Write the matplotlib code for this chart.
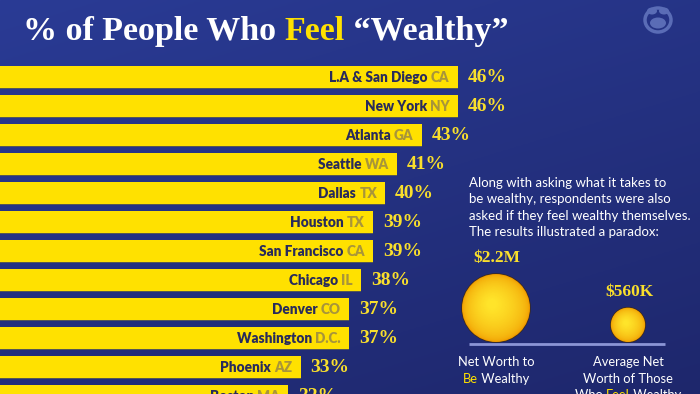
import numpy as np
import matplotlib
matplotlib.use("Agg")
import matplotlib.pyplot as plt
from matplotlib.patches import Circle, Ellipse

# ---------------- data ----------------
cities = ["L.A & San Diego", "New York", "Atlanta", "Seattle", "Dallas", "Houston",
          "San Francisco", "Chicago", "Denver", "Washington", "Phoenix", "Boston"]
states = ["CA", "NY", "GA", "WA", "TX", "TX", "CA", "IL", "CO", "D.C.", "AZ", "MA"]
pct_feel_wealthy = [46, 46, 43, 41, 40, 39, 39, 38, 37, 37, 33, 32]

bubble_labels = ["$2.2M", "$560K"]
bubble_values_musd = [2.2, 0.56]
bubble_captions = [["Net Worth to", ["Be", " Wealthy"]],
                   ["Average Net", "Worth of Those", ["Who ", "Feel", " Wealthy"]]]

title_parts = ["% of People Who ", "Feel", " \u201cWealthy\u201d"]
description = ["Along with asking what it takes to",
               "be wealthy, respondents were also",
               "asked if they feel wealthy themselves.",
               "The results illustrated a paradox:"]

# ---------------- style ----------------
W, H, DPI = 700, 394, 100
YELLOW = "#FFE100"
PCT_YELLOW = "#F9DF2C"
NAVY_TXT = "#282b5c"
STATE_TXT = "#a8953a"
WHITE = "#FFFFFF"
SANS = ["Lato", "DejaVu Sans"]
SERIF = ["Liberation Serif", "DejaVu Serif"]

fig = plt.figure(figsize=(W / DPI, H / DPI), dpi=DPI)

# background gradient
bg = fig.add_axes([0, 0, 1, 1], zorder=0)
yy, xx = np.mgrid[0:1:200j, 0:1:350j]
t = np.clip(0.65 * yy + 0.35 * xx, 0, 1)
top = np.array([0x2a, 0x3b, 0x95]) / 255
bot = np.array([0x1e, 0x27, 0x6c]) / 255
img = top[None, None, :] * (1 - t[..., None]) + bot[None, None, :] * t[..., None]
bg.imshow(img, extent=[0, 1, 0, 1], origin="upper", aspect="auto")
bg.set_axis_off()

# ---------------- bar chart ----------------
ax = fig.add_axes([0, 0, 1, 1], zorder=1)
ax.patch.set_alpha(0)
ax.set_axis_off()
ax.set_xlim(8.18, 65.98)
ax.set_ylim(10.93, -2.655)

idx = np.arange(len(cities))
bh = 22 / 29
# subtle shadow under each bar
ax.barh(idx + 0.05, pct_feel_wealthy, height=bh, left=0, color="#5d5d4e", alpha=0.9, zorder=1)
ax.barh(idx, pct_feel_wealthy, height=bh, left=0, color=YELLOW, zorder=2)

for i, (c, s, v) in enumerate(zip(cities, states, pct_feel_wealthy)):
    st = ax.annotate(s, xy=(v, i), xytext=(-6, 0), textcoords="offset points",
                     ha="right", va="center", fontsize=9.8, fontweight="heavy",
                     family=SANS, color=STATE_TXT, zorder=3, annotation_clip=False)
    ax.annotate(c + " ", xy=(0, 0), xycoords=st, ha="right", va="bottom",
                fontsize=9.8, fontweight="heavy", family=SANS, color=NAVY_TXT, zorder=3,
                annotation_clip=False)
    ax.annotate(f"{v}%", xy=(v, i), xytext=(7, 0), textcoords="offset points",
                ha="left", va="center", fontsize=14, fontweight="bold",
                family=SERIF, color=PCT_YELLOW, zorder=3, annotation_clip=False)

# ---------------- overlay (pixel coordinates) ----------------
ov = fig.add_axes([0, 0, 1, 1], zorder=2)
ov.patch.set_alpha(0)
ov.set_axis_off()
ov.set_xlim(0, W)
ov.set_ylim(H, 0)

# title
colors = [WHITE, YELLOW, WHITE]
prev = ov.text(23, 40, title_parts[0], ha="left", va="baseline", fontsize=24.5,
               fontweight="bold", family=SERIF, color=colors[0])
for part, col in zip(title_parts[1:], colors[1:]):
    prev = ov.annotate(part, xy=(1, 0), xycoords=prev, ha="left", va="bottom",
                       fontsize=24.5, fontweight="bold", family=SERIF, color=col)

# logo
LOGO = "#5a6cb6"
ov.add_patch(Ellipse((658, 20), 26, 24, facecolor="none", edgecolor=LOGO, lw=2.5))
ov.add_patch(Ellipse((658, 23), 16, 11, facecolor=LOGO, edgecolor="none"))
ov.add_patch(Ellipse((652, 11), 10, 7, facecolor=LOGO, edgecolor="none"))
ov.add_patch(Ellipse((664, 11), 10, 7, facecolor=LOGO, edgecolor="none"))

# description
for k, line in enumerate(description):
    ov.text(469, 183 + 16.4 * k, line, ha="left", va="center", fontsize=9.5,
            family=SANS, color=WHITE)

# bubbles
base_y = 344
col_x = [496, 628]
k_px = 34 / np.sqrt(2.2)
ov.plot([469, 665], [base_y, base_y], color="#8b95d6", lw=2, solid_capstyle="butt", zorder=2)
rim = np.array([0xF0, 0x9c, 0x00]) / 255
core = np.array([0xFF, 0xE4, 0x2a]) / 255
for x, v, lab in zip(col_x, bubble_values_musd, bubble_labels):
    r = k_px * np.sqrt(v)
    cy = base_y - r - 2
    ov.add_patch(Circle((x, cy), r + 0.8, facecolor="#3a2a20", edgecolor="none", zorder=3))
    n = 30
    for j in range(n):
        f = j / (n - 1)
        rr = r * (1 - 0.85 * f)
        colr = rim * (1 - f ** 0.5) + core * (f ** 0.5)
        ov.add_patch(Circle((x - 0.12 * r * f, cy - 0.12 * r * f), rr,
                            facecolor=colr, edgecolor="none", zorder=3))
    ov.text(x + 1, cy - r - 12, lab, ha="center", va="baseline", fontsize=12.5,
            fontweight="bold", family=SERIF, color=PCT_YELLOW)

# captions
r_ = fig.canvas.get_renderer()
for x, lines in zip(col_x, bubble_captions):
    for k, line in enumerate(lines):
        y = 362 + 16.6 * k
        if isinstance(line, str):
            ov.text(x, y, line, ha="center", va="center", fontsize=9.3, family=SANS,
                    color=WHITE, clip_on=False)
        else:
            parts = line
            widths = []
            for p in parts:
                tt = ov.text(0, 0, p, fontsize=9.3, family=SANS)
                widths.append(tt.get_window_extent(r_).width)
                tt.remove()
            x0 = x - sum(widths) / 2
            for p, wd in zip(parts, widths):
                col = YELLOW if p.strip() in ("Be", "Feel") else WHITE
                ov.text(x0, y, p, ha="left", va="center", fontsize=9.3, family=SANS,
                        color=col, clip_on=False)
                x0 += wd

fig.savefig("out.png", dpi=DPI)
